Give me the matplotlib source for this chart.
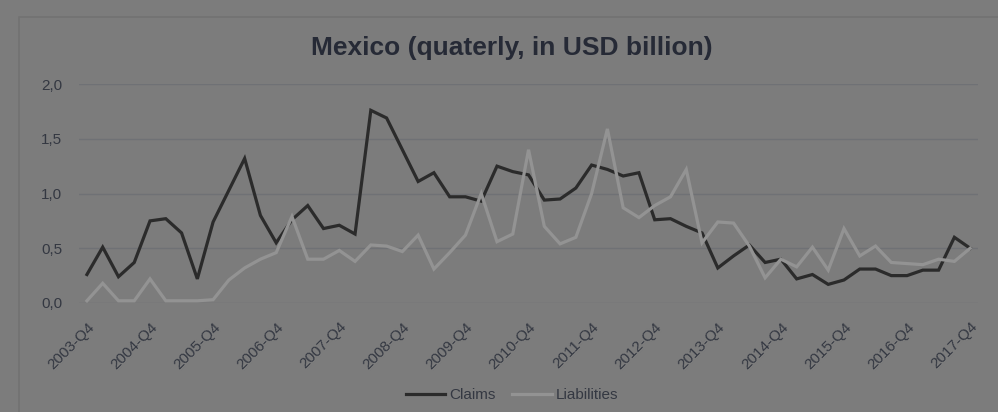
import numpy as np
import matplotlib
matplotlib.use("Agg")
import matplotlib.pyplot as plt
from matplotlib.ticker import FuncFormatter
from matplotlib.patches import Rectangle

# quarterly series, 2003-Q4 .. 2017-Q4 (USD billion)
quarters = ["2003-Q4"] + [f"{y}-Q{q}" for y in range(2004, 2018) for q in (1, 2, 3, 4)]
claims = [0.26, 0.51, 0.24, 0.37, 0.75, 0.77, 0.64, 0.22, 0.74, 1.03,
          1.32, 0.80, 0.55, 0.76, 0.89, 0.68, 0.71, 0.63, 1.76, 1.69,
          1.40, 1.11, 1.19, 0.97, 0.97, 0.93, 1.25, 1.20, 1.17, 0.94,
          0.95, 1.05, 1.26, 1.22, 1.16, 1.19, 0.76, 0.77, 0.70, 0.64,
          0.32, 0.43, 0.53, 0.37, 0.40, 0.22, 0.26, 0.17, 0.21, 0.31,
          0.31, 0.25, 0.25, 0.30, 0.30, 0.60, 0.50]
liabilities = [0.02, 0.18, 0.02, 0.02, 0.22, 0.02, 0.02, 0.02, 0.03, 0.21,
               0.32, 0.40, 0.46, 0.79, 0.40, 0.40, 0.48, 0.38, 0.53, 0.52,
               0.47, 0.62, 0.31, 0.46, 0.62, 1.00, 0.56, 0.63, 1.40, 0.70,
               0.54, 0.60, 1.00, 1.59, 0.87, 0.78, 0.89, 0.97, 1.22, 0.55,
               0.74, 0.73, 0.52, 0.23, 0.40, 0.33, 0.51, 0.30, 0.68, 0.43,
               0.52, 0.37, 0.36, 0.35, 0.40, 0.38, 0.50]
yticks = [0.0, 0.5, 1.0, 1.5, 2.0]

BG = "#7c7c7c"
TXT = "#343842"

plt.rcParams["font.family"] = ["Liberation Sans", "DejaVu Sans"]
fig = plt.figure(figsize=(9.98, 4.12), dpi=100, facecolor=BG)
ax = fig.add_axes([0.0792, 0.2646, 0.9008, 0.5314])
ax.set_facecolor(BG)

# outer chart frame
fig.patches.append(Rectangle((19 / 998, -0.1), 1.2, 1 - 17 / 412 + 0.1,
                             transform=fig.transFigure, fill=False,
                             edgecolor="#727272", lw=1.2))

x = np.arange(len(quarters))
ax.plot(x, claims, color="#2b2b2b", lw=2.3, label="Claims", solid_joinstyle="miter")
ax.plot(x, liabilities, color="#939393", lw=2.3, label="Liabilities", solid_joinstyle="miter")

ax.set_xlim(-0.5, len(quarters) - 0.5)
ax.set_ylim(0, 2.0)
ax.set_yticks(yticks)
ax.yaxis.set_major_formatter(FuncFormatter(lambda v, p: f"{v:.1f}".replace(".", ",")))
ax.set_xticks(x[::4])
ax.set_xticklabels(quarters[::4], rotation=45, ha="right", va="top", rotation_mode="anchor")
ax.tick_params(axis="both", length=0, colors=TXT, labelsize=11)
ax.tick_params(axis="y", pad=12)
ax.tick_params(axis="x", pad=12)
ax.grid(axis="y", color="#6f7175", lw=1.0)
ax.set_axisbelow(True)
for s in ax.spines.values():
    s.set_visible(False)

fig.text(0.513, 0.883, "Mexico (quaterly, in USD billion)", ha="center", va="center",
         fontsize=19, fontweight="bold", color="#262a36")
fig.legend(loc="center", bbox_to_anchor=(0.513, 0.041), ncol=2, frameon=False,
           fontsize=11, handlelength=2.6, handletextpad=0.25, columnspacing=1.1,
           labelcolor=TXT)

fig.savefig("out.png", dpi=100, facecolor=BG)
